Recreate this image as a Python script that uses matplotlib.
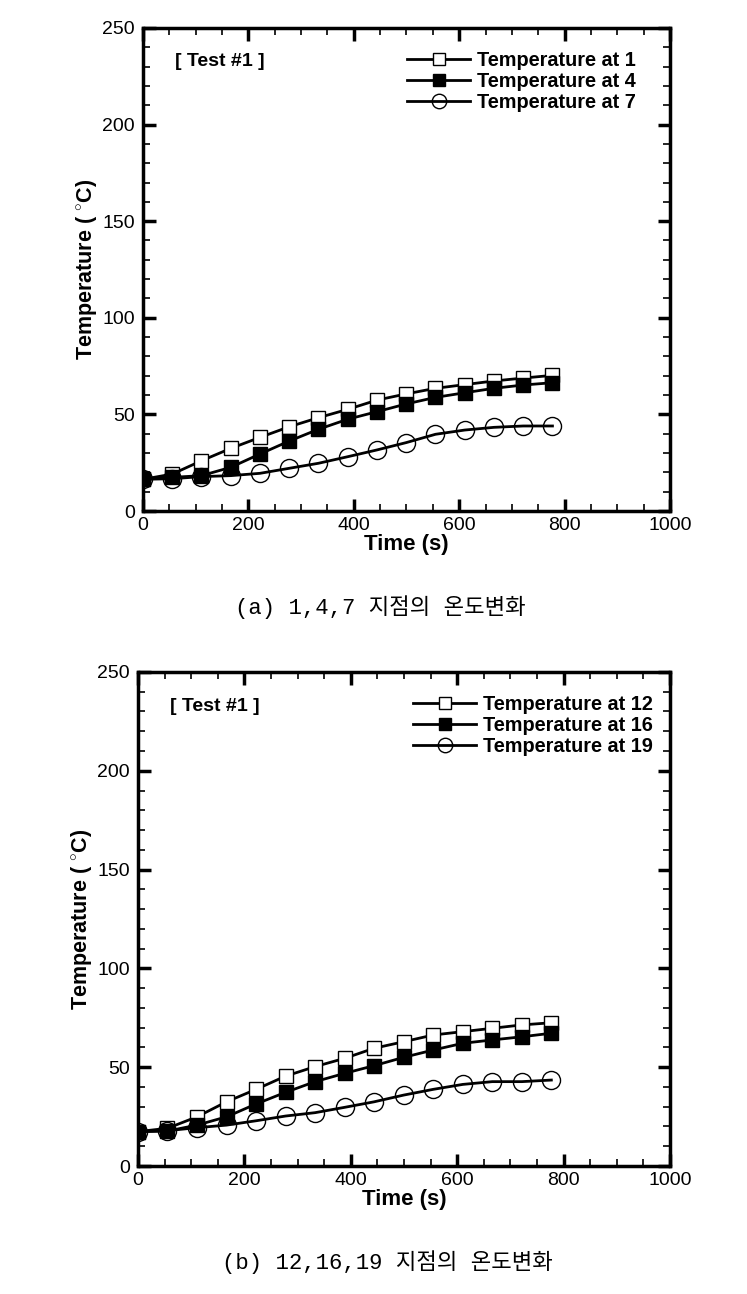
import matplotlib
matplotlib.use('Agg')
import matplotlib.pyplot as plt
from matplotlib.ticker import MultipleLocator

plt.rcParams['font.family'] = ['Liberation Sans', 'DejaVu Sans']
plt.rcParams['mathtext.fontset'] = 'custom'
plt.rcParams['mathtext.rm'] = 'Liberation Sans:bold'
plt.rcParams['mathtext.bf'] = 'Liberation Sans:bold'

# Tiempo de muestreo (s)
tiempo = [0, 55.5, 111, 166.5, 222, 277.5, 333, 388.5, 444, 499.5, 555, 610.5, 666, 721.5, 777]

# (a) puntos 1, 4, 7
temp1 = [16.4, 19.1, 26.0, 32.4, 38.1, 43.6, 48.3, 52.6, 57.4, 60.6, 63.5, 65.4, 67.3, 68.8, 70.2]
temp4 = [16.4, 17.4, 18.3, 22.6, 29.5, 36.2, 42.3, 47.5, 51.4, 55.4, 58.8, 61.2, 63.5, 65.2, 66.4]
temp7 = [16.4, 16.7, 17.8, 18.3, 19.5, 22.1, 24.7, 28.1, 31.6, 35.4, 39.7, 41.9, 43.3, 44.0, 44.0]

# (b) puntos 12, 16, 19
temp12 = [17.4, 19.1, 24.9, 32.5, 38.8, 45.5, 50.3, 54.5, 59.6, 62.9, 66.3, 68.0, 69.7, 71.4, 72.5]
temp16 = [17.4, 17.7, 20.7, 24.9, 31.4, 37.3, 42.7, 46.9, 50.8, 55.0, 58.7, 62.1, 63.8, 65.4, 67.2]
temp19 = [17.4, 17.9, 19.4, 20.7, 22.9, 25.3, 27.0, 29.7, 32.5, 35.9, 38.8, 41.3, 42.7, 42.7, 43.5]

etiquetasA = ['Temperature at 1', 'Temperature at 4', 'Temperature at 7']
etiquetasB = ['Temperature at 12', 'Temperature at 16', 'Temperature at 19']
captionA = '(a) 1,4,7 지점의 온도변화'
captionB = '(b) 12,16,19 지점의 온도변화'


def grafica(ax, series, etiquetas, legX):
    estilos = [dict(marker='s', markerfacecolor='white', markersize=10),
               dict(marker='s', markerfacecolor='black', markersize=10),
               dict(marker='o', markerfacecolor='none', markersize=13)]
    for y, lab, est in zip(series, etiquetas, estilos):
        ax.plot(tiempo, y, color='black', linewidth=2.0, markeredgecolor='black',
                markeredgewidth=1.0, label=lab, **est)
    ax.set_xlim(0, 1000)
    ax.set_ylim(0, 250)
    ax.xaxis.set_major_locator(MultipleLocator(200))
    ax.xaxis.set_minor_locator(MultipleLocator(50))
    ax.yaxis.set_major_locator(MultipleLocator(50))
    ax.yaxis.set_minor_locator(MultipleLocator(10))
    ax.tick_params(which='both', direction='in', top=True, right=True, labelsize=14)
    ax.tick_params(which='major', length=9, width=2.5)
    ax.tick_params(which='minor', length=5, width=1.2)
    ax.tick_params(axis='x', which='major', pad=4)
    ax.tick_params(axis='y', which='major', pad=6)
    for s in ax.spines.values():
        s.set_linewidth(2.5)
    ax.set_xlabel('Time (s)', fontsize=16, fontweight='bold', labelpad=0)
    ax.set_ylabel(r'Temperature ( $^{\circ}$C)', fontsize=15.5, fontweight='bold', labelpad=2)
    ax.text(0.06, 0.93, '[ Test #1 ]', transform=ax.transAxes, fontsize=14,
            fontweight='bold', va='center')
    leg = ax.legend(loc='upper right', bbox_to_anchor=(legX, 0.99), frameon=False,
                    handlelength=3.2, handletextpad=0.35, labelspacing=0.1,
                    prop={'weight': 'bold', 'size': 14.3}, markerscale=0.8)
    return leg


fig = plt.figure(figsize=(7.47, 12.94), dpi=100)
ax1 = fig.add_axes([0.1914, 0.6051, 0.7055, 0.3733])
ax2 = fig.add_axes([0.1847, 0.0989, 0.7122, 0.3818])

grafica(ax1, [temp1, temp4, temp7], etiquetasA, 0.97)
grafica(ax2, [temp12, temp16, temp19], etiquetasB, 1.002)

fuente = ['Liberation Mono', 'Noto Sans CJK KR']
fig.text(0.509, 1 - 607 / 1294, captionA, ha='center', va='center', fontsize=16, family=fuente)
fig.text(0.518, 1 - 1262 / 1294, captionB, ha='center', va='center', fontsize=16, family=fuente)

fig.savefig('out.png', dpi=100)
